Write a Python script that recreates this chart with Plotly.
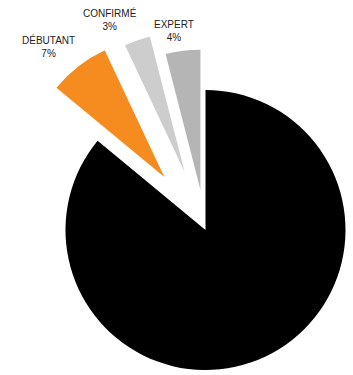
import math
import plotly.graph_objects as go

# ---- data ----
labels = ["AUTRES", "DÉBUTANT", "CONFIRMÉ", "EXPERT"]
values = [86, 7, 3, 4]
show_label = [False, True, True, True]

# ---- style ----
colors = ["#000000", "#F68B1F", "#CDCDCD", "#B5B5B5"]
pulls = [0.0, 0.48, 0.44, 0.29]

W, H = 353, 375
CX, CY, R = 205.5, 230.0, 140.0
# label block centres (pixels)
label_pos = [None, (48, 46.5), (110, 19.5), (174, 31.5)]

total = sum(values)
fig = go.Figure()
cum = 0.0
for i, v in enumerate(values):
    mid = 2 * math.pi * (cum + v / 2) / total  # clockwise from top
    cum += v
    d = pulls[i] * R
    cx = CX + d * math.sin(mid)
    cy = CY - d * math.cos(mid)
    mcolors = [colors[j] if j == i else "rgba(0,0,0,0)" for j in range(len(values))]
    fig.add_trace(go.Pie(
        labels=labels, values=values, sort=False, direction="clockwise", rotation=0,
        marker=dict(colors=mcolors, line=dict(width=0)),
        textinfo="none", showlegend=False, hoverinfo="skip",
        domain=dict(x=[(cx - R) / W, (cx + R) / W], y=[1 - (cy + R) / H, 1 - (cy - R) / H]),
    ))

annotations = []
for i, lab in enumerate(labels):
    if not show_label[i]:
        continue
    px, py = label_pos[i]
    annotations.append(dict(
        text=f"{lab}<br>{values[i]}%", x=px / W, y=1 - py / H, xref="paper", yref="paper",
        showarrow=False, xanchor="center", yanchor="middle", align="center",
        font=dict(family="Liberation Sans, Arial, sans-serif", size=10, color="#222222"),
    ))

fig.update_layout(
    width=W, height=H, margin=dict(l=0, r=0, t=0, b=0),
    paper_bgcolor="white", plot_bgcolor="white",
    annotations=annotations,
)
fig.write_html("out.html")
